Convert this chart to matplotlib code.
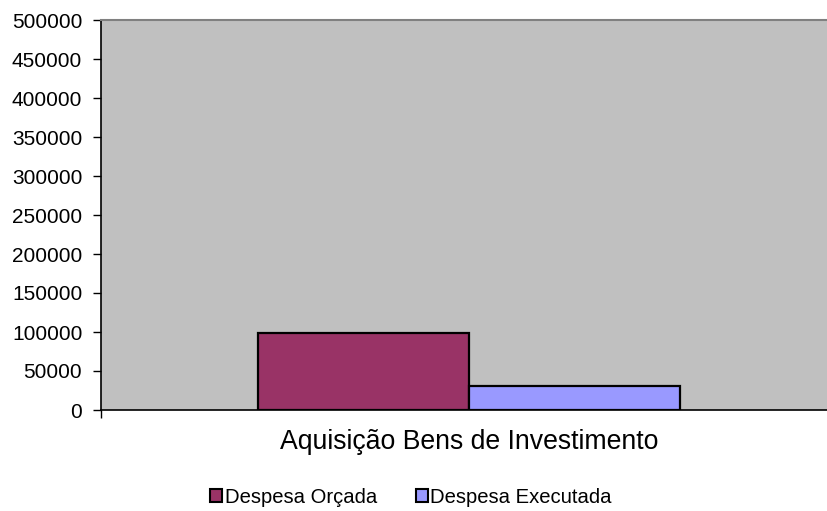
import matplotlib
matplotlib.use("Agg")
import matplotlib.pyplot as plt
from matplotlib.patches import Patch

categories = ["Aquisição Bens de Investimento"]
series_names = ["Despesa Orçada", "Despesa Executada"]
orcada = [98300]
executada = [31200]
yticks = [0, 50000, 100000, 150000, 200000, 250000, 300000, 350000, 400000, 450000, 500000]

plt.rcParams['font.family'] = ['Liberation Sans', 'DejaVu Sans']

fig = plt.figure(figsize=(8.27, 5.11), dpi=100)
ax = fig.add_axes([101/827, 1-410/511, 726/827, 390/511])
ax.set_facecolor('#C0C0C0')

x = list(range(len(categories)))
w = 1.0
ax.bar([i - w/2 for i in x], orcada, width=w, color='#993366', edgecolor='black', linewidth=1.6, zorder=3)
ax.bar([i + w/2 for i in x], executada, width=w, color='#9999FF', edgecolor='black', linewidth=1.6, zorder=3)

ax.set_xlim(-1.744, 1.697)
ax.set_ylim(0, 500000)
ax.set_yticks(yticks)
ax.set_yticklabels([str(v) for v in yticks], fontsize=15)
ax.set_xticks(x)
ax.set_xticklabels(categories, fontsize=19.2)
ax.tick_params(axis='x', length=0, pad=14)
ax.tick_params(axis='y', direction='out', length=5.5, width=1, pad=8)
ax.set_xticks([-1.744], minor=True)
ax.tick_params(axis='x', which='minor', direction='out', length=5.5, width=1)

ax.spines['right'].set_visible(False)
ax.spines['top'].set_color('#808080')
ax.spines['top'].set_linewidth(1.5)
ax.spines['left'].set_color('black')
ax.spines['bottom'].set_color('black')
ax.spines['left'].set_linewidth(1.2)
ax.spines['bottom'].set_linewidth(1.2)

handles = [Patch(facecolor='#993366', edgecolor='black', linewidth=1.5),
           Patch(facecolor='#9999FF', edgecolor='black', linewidth=1.5)]
fig.legend(handles, series_names, loc='center', bbox_to_anchor=(411/827, 1-497/511),
           ncol=2, frameon=False, fontsize=14.6, handlelength=0.6, handleheight=0.6,
           handletextpad=0.12, columnspacing=1.9, borderpad=0, borderaxespad=0)

fig.savefig('out.png', dpi=100)
